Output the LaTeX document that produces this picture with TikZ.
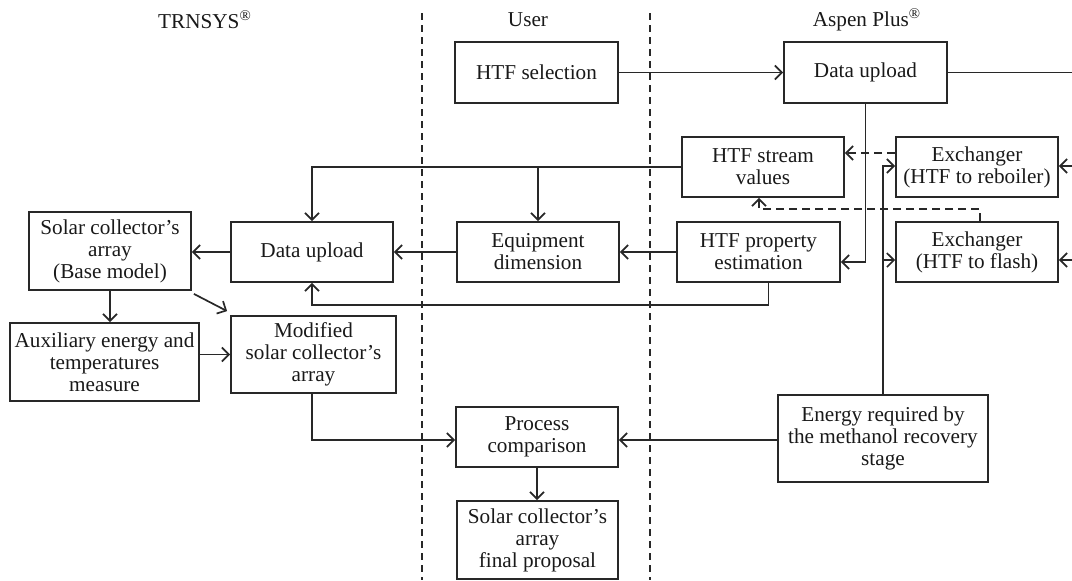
\documentclass[tikz,border=0pt]{standalone}
\usepackage{fontspec}
\setmainfont{Liberation Serif}
\usetikzlibrary{arrows.meta,calc}
\definecolor{linec}{RGB}{40,40,40}
\begin{document}
\begin{tikzpicture}[x=0.5pt,y=-0.5pt,
  box/.style 2 args={draw=linec, line width=0.9pt, rectangle, inner sep=0pt, align=center,
    font=\fontsize{10.6}{11}\selectfont, text=black!90,
    minimum width=#1*0.5pt, minimum height=#2*0.5pt},
  arr/.style={draw=linec, line width=0.85pt, -{Straight Barb[length=3.5pt,width=7pt]}},
  ln/.style={draw=linec, line width=0.85pt},
  darr/.style={arr, dash pattern=on 4pt off 2.5pt},
  lane/.style={draw=linec, line width=0.85pt, dash pattern=on 3.5pt off 2.5pt},
  title/.style={font=\fontsize{10.6}{11}\selectfont, text=black!90, inner sep=0pt}
]
\useasboundingbox (0,0) rectangle (1072,580);

% lane titles
\node[title] (tTRN) at (205,20) {TRNSYS\textsuperscript{®}};
\node[title] (tUser) at (528,20) {User};
\node[title] (tAsp) at (867,20) {Aspen Plus\textsuperscript{®}};

% lane separators
\coordinate (l1a) at (422,13); \coordinate (l1b) at (422,580);
\coordinate (l2a) at (650,13); \coordinate (l2b) at (650,580);
\draw[lane] (l1a) -- (l1b);
\draw[lane] (l2a) -- (l2b);

% boxes
\node[box={163}{61}] (sel) at (536.5,72.5) {HTF selection};
\node[box={163}{61}] (adu) at (865.5,72.5) {Data upload};
\node[box={162}{60}] (hsv) at (763,167) {HTF stream\\values};
\node[box={162}{60}] (exr) at (977,167) {Exchanger\\(HTF to reboiler)};
\node[box={162}{60}] (exf) at (977,252) {Exchanger\\(HTF to flash)};
\node[box={163}{60}] (hpe) at (758.5,252) {HTF property\\estimation};
\node[box={162}{60}] (eqd) at (538,252) {Equipment\\dimension};
\node[box={162}{60}] (tdu) at (312,252) {Data upload};
\node[box={162}{78}] (sca) at (110,251) {Solar collector’s\\array\\(Base model)};
\node[box={189}{78}] (aux) at (104.5,362) {Auxiliary energy and\\temperatures\\measure};
\node[box={165}{77}] (mod) at (313.5,354.5) {Modified\\solar collector’s\\array};
\node[box={162}{60}] (pc) at (537,437) {Process\\comparison};
\node[box={161}{78}] (fin) at (537.5,540) {Solar collector’s\\array\\final proposal};
\node[box={210}{87}] (erg) at (883,438.5) {Energy required by\\the methanol recovery\\stage};

% free ends at right edge
\coordinate (r0) at (1072,72.5);
\coordinate (r1) at (1072,166);
\coordinate (r2) at (1072,260);

% connectors
\draw[arr] (sel) -- (adu);
\draw[ln] (adu.east) -- (r0);
\draw[arr] (r1) -- (r1 -| exr.east);
\draw[arr] (r2) -- (r2 -| exf.east);

\draw[arr] (adu.south) |- ($(hpe.east)+(0,10)$);
\draw[arr] (erg.north) |- ($(exr.west)+(0,-1)$);
\draw[arr] ($(erg.north)+(0,-134)$) -- ($(exf.west)+(0,8)$);

\draw[darr] ($(exr.west)+(0,-14)$) -- ($(hsv.east)+(0,-14)$);
\draw[darr] ($(exf.north)+(3,0)$) -- ++(0,-12) -| ($(hsv.south)+(-4,0)$);

\draw[arr] (hsv.west) -| (tdu.north);
\draw[arr] (hsv.west -| eqd.north) -- (eqd.north);

\draw[arr] (hpe.west) -- (eqd.east);
\draw[arr] (eqd.west) -- (tdu.east);
\draw[arr] (tdu.west) -- (tdu.west -| sca.east);
\draw[arr] ($(hpe.south)+(10,0)$) -- ++(0,22) -| (tdu.south);

\draw[arr] (sca.south) -- (sca.south |- aux.north);
\draw[arr] ($(sca.south east)+(2,3)$) -- ($(mod.north west)+(-3,-4)$);
\draw[arr] (aux.east |- mod.west) -- (mod.west);
\draw[arr] ($(mod.south)+(-1.5,0)$) |- ($(pc.west)+(0,3)$);
\draw[arr] ($(erg.west)+(0,1.5)$) -- ($(pc.east)+(0,3)$);
\draw[arr] (pc.south) -- (pc.south |- fin.north);
\end{tikzpicture}
\end{document}
